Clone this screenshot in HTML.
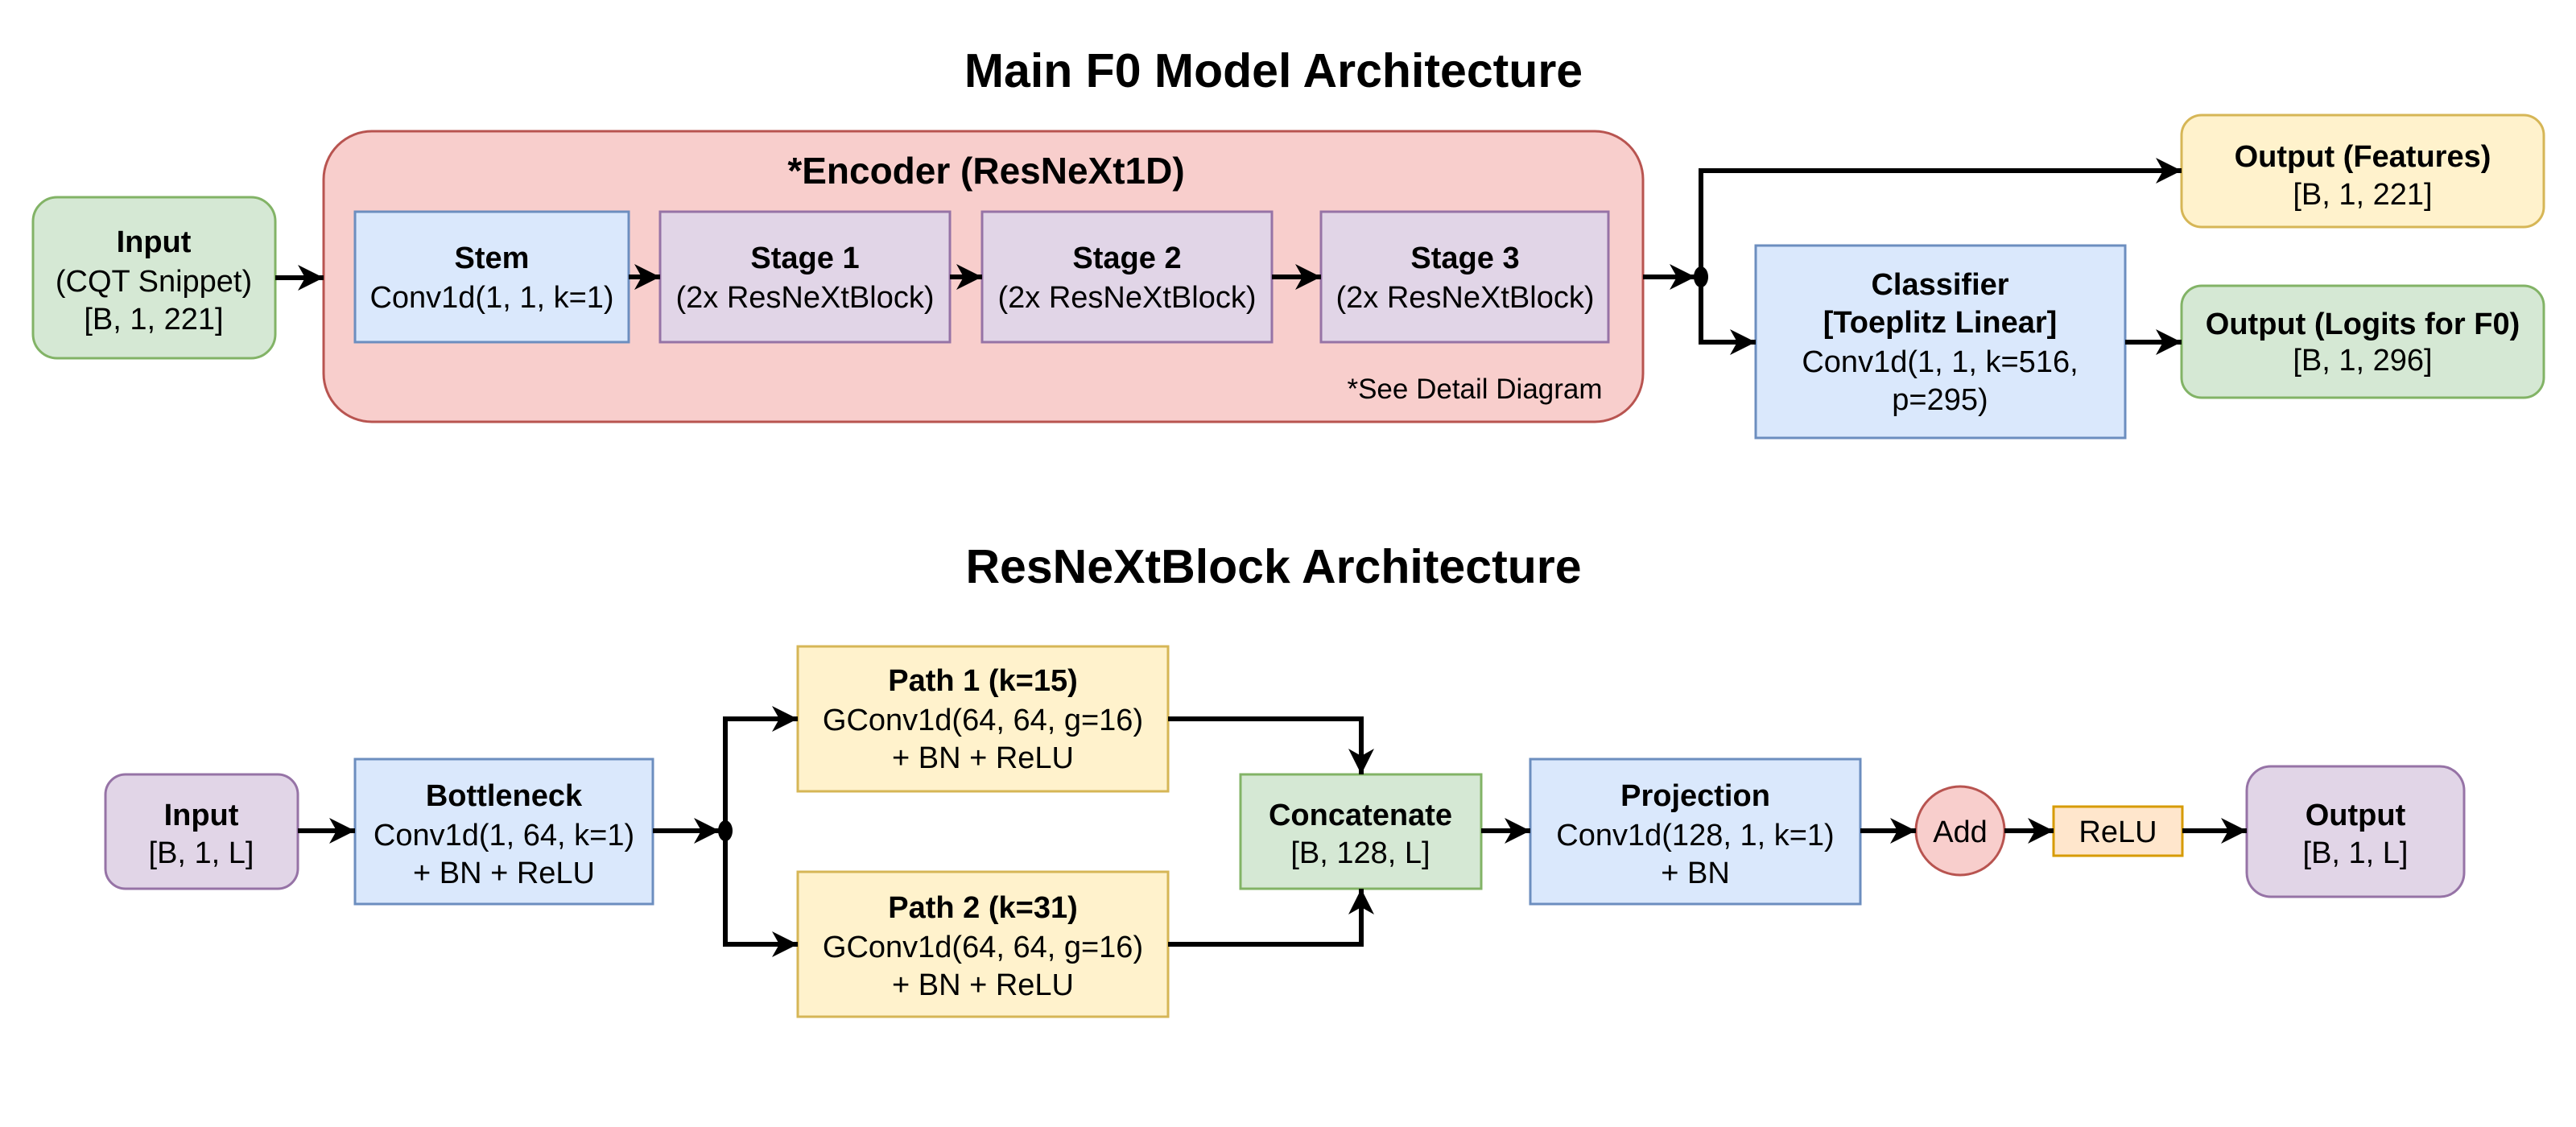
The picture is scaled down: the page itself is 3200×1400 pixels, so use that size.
<!DOCTYPE html>
<html><head><meta charset="utf-8"><style>
html,body{margin:0;padding:0;background:#fff;}
svg{display:block;}
text{font-family:"Liberation Sans",Arial,sans-serif;font-size:38px;fill:#000;text-anchor:middle;}
.b{font-weight:bold;}
.t{font-weight:bold;font-size:59px;}
</style></head><body>
<svg width="3200" height="1400" viewBox="0 0 3200 1400" xmlns="http://www.w3.org/2000/svg">
<defs>
<marker id="a" markerUnits="userSpaceOnUse" markerWidth="34" markerHeight="34" refX="32" refY="17" orient="auto">
<path d="M0,1 L32,17 L0,33 L9,17 Z" fill="#000"/>
</marker>
</defs>
<g stroke-width="3">
<text class="t" x="1582" y="108">Main F0 Model Architecture</text>
<rect x="41" y="245" width="301" height="200" rx="30" fill="#d5e8d4" stroke="#82b366"/>
<rect x="402" y="163" width="1639" height="361" rx="60" fill="#f8cecc" stroke="#b85450"/>
<rect x="441" y="263" width="340" height="162" fill="#dae8fc" stroke="#6c8ebf"/>
<rect x="820" y="263" width="360" height="162" fill="#e1d5e7" stroke="#9673a6"/>
<rect x="1220" y="263" width="360" height="162" fill="#e1d5e7" stroke="#9673a6"/>
<rect x="1641" y="263" width="357" height="162" fill="#e1d5e7" stroke="#9673a6"/>
<rect x="2710" y="143" width="450" height="139" rx="25" fill="#fff2cc" stroke="#d6b656"/>
<rect x="2181" y="305" width="459" height="239" fill="#dae8fc" stroke="#6c8ebf"/>
<rect x="2710" y="355" width="450" height="139" rx="25" fill="#d5e8d4" stroke="#82b366"/>
<text class="t" x="1582" y="724">ResNeXtBlock Architecture</text>
<rect x="131" y="962" width="239" height="142" rx="25" fill="#e1d5e7" stroke="#9673a6"/>
<rect x="441" y="943" width="370" height="180" fill="#dae8fc" stroke="#6c8ebf"/>
<rect x="991" y="803" width="460" height="180" fill="#fff2cc" stroke="#d6b656"/>
<rect x="991" y="1083" width="460" height="180" fill="#fff2cc" stroke="#d6b656"/>
<rect x="1541" y="962" width="299" height="142" fill="#d5e8d4" stroke="#82b366"/>
<rect x="1901" y="943" width="410" height="180" fill="#dae8fc" stroke="#6c8ebf"/>
<ellipse cx="2435" cy="1032" rx="55" ry="55" fill="#f8cecc" stroke="#b85450"/>
<rect x="2551" y="1002" width="160" height="61" fill="#ffe6cc" stroke="#d79b00"/>
<rect x="2791" y="952" width="270" height="162" rx="30" fill="#e1d5e7" stroke="#9673a6"/>
</g>
<g stroke="#000" stroke-width="6" fill="none" marker-end="url(#a)">
<line x1="342" y1="345" x2="402" y2="345"/>
<line x1="781" y1="344" x2="820" y2="344"/>
<line x1="1180" y1="344" x2="1220" y2="344"/>
<line x1="1580" y1="344" x2="1641" y2="344"/>
<line x1="2041" y1="344" x2="2106" y2="344"/>
<polyline points="2113,344 2113,212 2710,212"/>
<polyline points="2113,344 2113,425 2181,425"/>
<line x1="2640" y1="425" x2="2710" y2="425"/>
<line x1="370" y1="1032" x2="441" y2="1032"/>
<line x1="811" y1="1032" x2="894" y2="1032"/>
<polyline points="901,1032 901,893 991,893"/>
<polyline points="901,1032 901,1173 991,1173"/>
<polyline points="1451,893 1691,893 1691,962"/>
<polyline points="1451,1173 1691,1173 1691,1104"/>
<line x1="1840" y1="1032" x2="1901" y2="1032"/>
<line x1="2311" y1="1032" x2="2380" y2="1032"/>
<line x1="2490" y1="1032" x2="2551" y2="1032"/>
<line x1="2711" y1="1032" x2="2791" y2="1032"/>
</g>
<ellipse cx="2113" cy="344" rx="9" ry="13" fill="#000"/>
<ellipse cx="901" cy="1032" rx="9" ry="13" fill="#000"/>
<text class="b" x="191" y="313">Input</text>
<text x="191" y="362">(CQT Snippet)</text>
<text x="191" y="409">[B, 1, 221]</text>
<text class="b" x="1225" y="228" style="font-size:46px">*Encoder (ResNeXt1D)</text>
<text class="b" x="611" y="333">Stem</text>
<text x="611" y="382">Conv1d(1, 1, k=1)</text>
<text class="b" x="1000" y="333">Stage 1</text>
<text x="1000" y="382">(2x ResNeXtBlock)</text>
<text class="b" x="1400" y="333">Stage 2</text>
<text x="1400" y="382">(2x ResNeXtBlock)</text>
<text class="b" x="1820" y="333">Stage 3</text>
<text x="1820" y="382">(2x ResNeXtBlock)</text>
<text x="1832" y="495" style="font-size:35px">*See Detail Diagram</text>
<text class="b" x="2935" y="207">Output (Features)</text>
<text x="2935" y="254">[B, 1, 221]</text>
<text class="b" x="2410" y="366">Classifier</text>
<text class="b" x="2410" y="413">[Toeplitz Linear]</text>
<text x="2410" y="462">Conv1d(1, 1, k=516,</text>
<text x="2410" y="509">p=295)</text>
<text class="b" x="2935" y="415">Output (Logits for F0)</text>
<text x="2935" y="460">[B, 1, 296]</text>
<text class="b" x="250" y="1025">Input</text>
<text x="250" y="1072">[B, 1, L]</text>
<text class="b" x="626" y="1001">Bottleneck</text>
<text x="626" y="1050">Conv1d(1, 64, k=1)</text>
<text x="626" y="1097">+ BN + ReLU</text>
<text class="b" x="1221" y="858">Path 1 (k=15)</text>
<text x="1221" y="907">GConv1d(64, 64, g=16)</text>
<text x="1221" y="954">+ BN + ReLU</text>
<text class="b" x="1221" y="1140">Path 2 (k=31)</text>
<text x="1221" y="1189">GConv1d(64, 64, g=16)</text>
<text x="1221" y="1236">+ BN + ReLU</text>
<text class="b" x="1690" y="1025">Concatenate</text>
<text x="1690" y="1072">[B, 128, L]</text>
<text class="b" x="2106" y="1001">Projection</text>
<text x="2106" y="1050">Conv1d(128, 1, k=1)</text>
<text x="2106" y="1097">+ BN</text>
<text x="2435" y="1046">Add</text>
<text x="2631" y="1046">ReLU</text>
<text class="b" x="2926" y="1025">Output</text>
<text x="2926" y="1072">[B, 1, L]</text>
</svg>
</body></html>
